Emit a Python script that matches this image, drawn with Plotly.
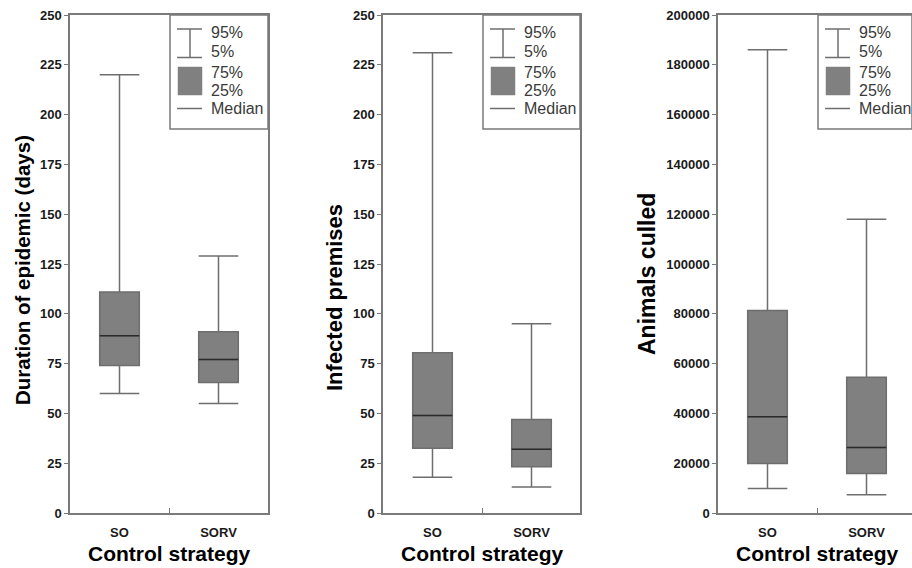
import plotly.graph_objects as go

W, H = 912, 568

# ---------------- data ----------------
categories = ["SO", "SORV"]
positions = [0.5, 1.5]

# Panel 1: Duration of epidemic (days)
dur_p5 = [60, 55]
dur_q1 = [74, 65.5]
dur_med = [89, 77]
dur_q3 = [111, 91]
dur_p95 = [220, 129]

# Panel 2: Infected premises
inf_p5 = [18, 13]
inf_q1 = [32.5, 23.2]
inf_med = [49, 32]
inf_q3 = [80.5, 47]
inf_p95 = [231, 95]

# Panel 3: Animals culled
cul_p5 = [9800, 7300]
cul_q1 = [19900, 15900]
cul_med = [38700, 26300]
cul_q3 = [81300, 54500]
cul_p95 = [186000, 118000]

y_titles = ["Duration of epidemic (days)", "Infected premises", "Animals culled"]
x_title = "Control strategy"
y_ranges = [[0, 250], [0, 250], [0, 200000]]
y_dticks = [25, 25, 20000]
legend_labels = ["95%", "5%", "75%", "25%", "Median"]

panels = [
    (dur_p5, dur_q1, dur_med, dur_q3, dur_p95),
    (inf_p5, inf_q1, inf_med, inf_q3, inf_p95),
    (cul_p5, cul_q1, cul_med, cul_q3, cul_p95),
]

# ---------------- styling / geometry ----------------
FONT = "Liberation Sans, Arial, sans-serif"
FRAME = "#7a7a7a"
WHISK = "#6e6e6e"
FILL = "#808080"
MED = "#2a2a2a"
TXT = "#1a1a1a"
LEGTXT = "#3a3a3a"

lefts = [70, 383, 718]
rights = [268, 580, 912]
TOP, BOT = 15, 513
PX_PER_UNIT = 99.0
BOX_W = 0.4
ytitle_x = [22, 334, 647]
ytitle_y = [270, 298, 274]
ytitle_size = [20.5, 22, 23]


def fx(x):
    return x / W


def fy(y):
    return (H - y) / H


fig = go.Figure()
shapes = []
annotations = []

for i, (p5, q1, med, q3, p95) in enumerate(panels):
    n = "" if i == 0 else str(i + 1)
    xa, ya = "x" + n, "y" + n
    fig.add_trace(go.Box(
        x=positions, q1=q1, median=med, q3=q3, lowerfence=p5, upperfence=p95,
        width=BOX_W, whiskerwidth=1, boxpoints=False,
        fillcolor=FILL, line=dict(color=WHISK, width=1.5),
        xaxis=xa, yaxis=ya, showlegend=False, hoverinfo="skip",
    ))
    for pos, m in zip(positions, med):
        fig.add_trace(go.Scatter(
            x=[pos - BOX_W / 2, pos + BOX_W / 2], y=[m, m], mode="lines",
            line=dict(color=MED, width=1.5), xaxis=xa, yaxis=ya,
            showlegend=False, hoverinfo="skip",
        ))

    L, R = lefts[i], rights[i]
    xr = (R - L) / PX_PER_UNIT
    dom_x = [max(0, fx(L)), min(1, fx(R))]
    dom_y = [fy(BOT), fy(TOP)]
    fig.layout["xaxis" + n] = dict(
        domain=dom_x, range=[0, xr], anchor=ya, automargin=False,
        tickvals=positions, ticktext=categories, ticks="",
        ticklabelstandoff=7, ticklabeloverflow="allow",
        tickfont=dict(family=FONT, size=13, color=TXT, weight="bold"),
        showline=True, linecolor=FRAME, linewidth=1.5, mirror=True,
        showgrid=False, zeroline=False,
        minor=dict(tickvals=[1, 2], ticks="inside", ticklen=5,
                   tickcolor=FRAME, tickwidth=1.2, showgrid=False),
    )
    fig.layout["yaxis" + n] = dict(
        domain=dom_y, range=y_ranges[i], anchor=xa, automargin=False,
        tick0=0, dtick=y_dticks[i], tickformat="d",
        ticklabeloverflow="allow",
        ticks="outside", ticklen=4, tickcolor=FRAME, tickwidth=1.2,
        tickfont=dict(family=FONT, size=13, color=TXT, weight="bold"),
        showline=True, linecolor=FRAME, linewidth=1.5, mirror=True,
        showgrid=False, zeroline=False,
    )
    # right-side inward ticks
    k = str(i + 4)
    fig.layout["yaxis" + k] = dict(
        overlaying=ya, anchor=xa, side="right", range=y_ranges[i],
        automargin=False,
        tick0=0, dtick=y_dticks[i], ticks="inside", ticklen=5,
        tickcolor=FRAME, tickwidth=1.2, showticklabels=False,
        showline=False, showgrid=False, zeroline=False,
    )

    # axis titles
    annotations.append(dict(
        x=fx(ytitle_x[i]), y=fy(ytitle_y[i]), xref="paper", yref="paper",
        text=y_titles[i], textangle=-90, showarrow=False,
        xanchor="center", yanchor="middle",
        font=dict(family=FONT, size=ytitle_size[i], color="#000", weight="bold"),
    ))
    annotations.append(dict(
        x=fx((L + L + 198) / 2), y=fy(553), xref="paper", yref="paper",
        text=x_title, showarrow=False, xanchor="center", yanchor="middle",
        font=dict(family=FONT, size=21, color="#000", weight="bold"),
    ))

    # legend box
    LL = L + 100
    shapes.append(dict(type="rect", xref="paper", yref="paper",
                       x0=fx(LL), x1=min(1, fx(R)), y0=fy(129), y1=fy(TOP),
                       line=dict(color=FRAME, width=1.5), fillcolor="white",
                       layer="above"))
    # error-bar glyph
    for yy in (29, 57.5):
        shapes.append(dict(type="line", xref="paper", yref="paper",
                           x0=fx(LL + 7), x1=fx(LL + 32), y0=fy(yy), y1=fy(yy),
                           line=dict(color=WHISK, width=1.5), layer="above"))
    shapes.append(dict(type="line", xref="paper", yref="paper",
                       x0=fx(LL + 20), x1=fx(LL + 20), y0=fy(29), y1=fy(57.5),
                       line=dict(color=WHISK, width=1.5), layer="above"))
    # grey square
    shapes.append(dict(type="rect", xref="paper", yref="paper",
                       x0=fx(LL + 8), x1=fx(LL + 32), y0=fy(95), y1=fy(67),
                       line=dict(color=FILL, width=0.5), fillcolor=FILL,
                       layer="above"))
    # median glyph
    shapes.append(dict(type="line", xref="paper", yref="paper",
                       x0=fx(LL + 7), x1=fx(LL + 32), y0=fy(108.5), y1=fy(108.5),
                       line=dict(color=WHISK, width=1.5), layer="above"))
    for lab, yy in zip(legend_labels, [33, 52, 72, 90, 108.5]):
        annotations.append(dict(
            x=fx(LL + 39), y=fy(yy), xref="paper", yref="paper", text=lab,
            showarrow=False, xanchor="left", yanchor="middle",
            font=dict(family=FONT, size=16, color=LEGTXT),
        ))

fig.update_layout(
    width=W, height=H, margin=dict(l=0, r=0, t=0, b=0),
    paper_bgcolor="white", plot_bgcolor="white",
    shapes=shapes, annotations=annotations, showlegend=False,
)

fig.write_html(
    "out.html",
    config={"displayModeBar": False},
    post_script="document.body.style.margin='0';"
                "document.body.style.overflow='hidden';",
)
